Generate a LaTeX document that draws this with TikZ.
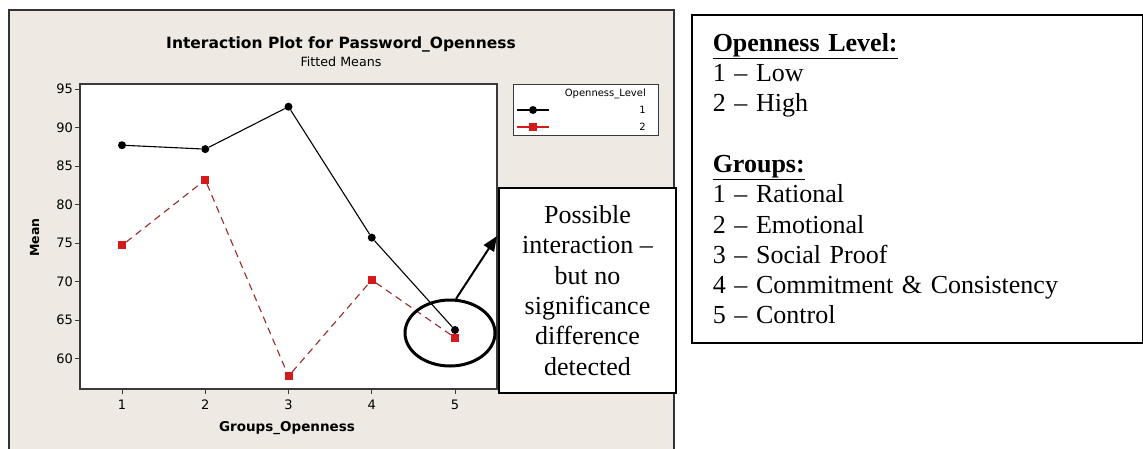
\documentclass[tikz,border=0pt]{standalone}
\usepackage{fontspec}
\setmainfont{Liberation Serif}
\newfontfamily\chartfont{DejaVu Sans}
\usetikzlibrary{arrows.meta,shapes.geometric}
\definecolor{framebg}{HTML}{EEEAE3}
\definecolor{axisgray}{HTML}{3A3A3A}
\definecolor{sred}{HTML}{D41A1A}
\definecolor{dred}{HTML}{9A2A2A}
\begin{document}
\begin{tikzpicture}[x=1pt,y=-1pt,
  dotmark/.style={circle,fill=black,inner sep=0,minimum size=8},
  sqmark/.style={rectangle,fill=sred,inner sep=0,minimum size=8},
  seriesa/.style={black,line width=1.1},
  seriesb/.style={dred,line width=1.1,dash pattern=on 7pt off 5pt},
  ticklab/.style={font=\chartfont\fontsize{13}{15}\selectfont,inner sep=0},
  tickline/.style={axisgray,line width=1},
  legfont/.style={font=\chartfont\fontsize{10}{12}\selectfont,inner sep=0},
  keyfont/.style={font=\fontsize{26}{30.3}\selectfont}]
\clip (0,0) rectangle (1143,448);
\fill[white] (0,0) rectangle (1143,448);
% chart frame
\draw[fill=framebg,draw=black!80,line width=1.5] (9,10) rectangle (674,470);
% title
\node[anchor=base,font=\chartfont\bfseries\fontsize{15.5}{18}\selectfont,inner sep=0] (title) at (341,48) {Interaction Plot for Password\_Openness};
\node[anchor=base,font=\chartfont\fontsize{12.7}{15}\selectfont,inner sep=0] (subtitle) at (341,66) {Fitted Means};
% plot area
\draw[fill=white,draw=axisgray,line width=1.5] (80,84) rectangle (497,389);
% y ticks
\foreach \v/\yy in {95/89,90/127.5,85/166,80/204.5,75/243,70/281.5,65/320,60/358.5}{
  \draw[tickline] (75,\yy) -- (80,\yy);
  \node[ticklab,anchor=east] (y\v) at (73,\yy) {\v};
}
% x ticks
\foreach \g/\xx in {1/122,2/205.25,3/288.5,4/371.75,5/455}{
  \draw[tickline] (\xx,389) -- (\xx,394);
  \node[ticklab] (x\g) at (\xx,405) {\g};
}
\node[anchor=base,font=\chartfont\bfseries\fontsize{13.5}{16}\selectfont,inner sep=0] (xlabel) at (287,431) {Groups\_Openness};
\node[anchor=base,rotate=90,font=\chartfont\bfseries\fontsize{12.5}{15}\selectfont,inner sep=0] (ylabel) at (39,237.5) {Mean};
% series 1
\node[dotmark] (a1) at (122,145.2) {};
\node[dotmark] (a2) at (205.25,149.1) {};
\node[dotmark] (a3) at (288.5,106.7) {};
\node[dotmark] (a4) at (371.75,237.6) {};
\node[dotmark] (a5) at (455,330.0) {};
\draw[seriesa] (a1) -- (a2) -- (a3) -- (a4) -- (a5);
% series 2
\node[sqmark] (b1) at (122,245.3) {};
\node[sqmark] (b2) at (205.25,179.9) {};
\node[sqmark] (b3) at (288.5,376.2) {};
\node[sqmark] (b4) at (371.75,280) {};
\node[sqmark] (b5) at (455,337.7) {};
\draw[seriesb] (b1) -- (b2) -- (b3) -- (b4) -- (b5);
% chart legend
\node[draw=axisgray,line width=1.2,fill=white,minimum width=145,minimum height=51,anchor=north west,inner sep=0] (legbox) at (513,84) {};
\node[anchor=east,legfont] (legtitle) at (646,94) {Openness\_Level};
\coordinate (l1a) at (517,110); \coordinate (l1b) at (549,110);
\coordinate (l2a) at (517,127); \coordinate (l2b) at (549,127);
\draw[black,line width=1.1] (l1a) -- (l1b);
\draw[sred,line width=1.1] (l2a) -- (l2b);
\node[dotmark] (lm1) at (533,110) {};
\node[sqmark] (lm2) at (533,127) {};
\node[anchor=east,legfont] (ll1) at (646,110) {1};
\node[anchor=east,legfont] (ll2) at (646,127) {2};
% callout
\node[draw=black,line width=2,fill=white,minimum width=177,minimum height=205,align=center,inner sep=0,keyfont] (callout) at (587.5,290.5) {Possible\\interaction –\\but no\\significance\\difference\\detected};
\node[ellipse,draw=black,line width=3,minimum width=90,minimum height=66,inner sep=0] (ring) at (450,333) {};
\coordinate (tip) at (497,236);
\draw[line width=2,-{Triangle[length=15pt,width=12pt]}] (ring.80) -- (tip);
% key box
\node[draw=black,line width=1.5,minimum width=451,minimum height=328,text width=409,inner xsep=21,inner ysep=0,align=left,anchor=north west,keyfont] (key) at (691,14) {\underline{\textbf{Openness Level:}}\\1 – Low\\2 – High\\[30.3pt]\underline{\textbf{Groups:}}\\1 – Rational\\2 – Emotional\\3 – Social Proof\\4 – Commitment \& Consistency\\5 – Control};
\end{tikzpicture}
\end{document}
